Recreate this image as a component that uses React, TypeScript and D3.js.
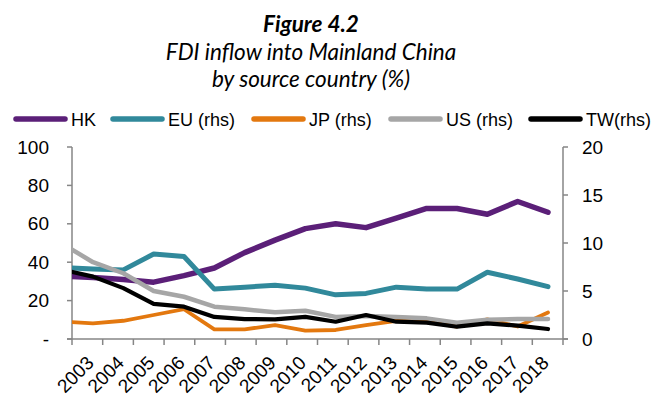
import React, { useEffect, useRef } from 'react';
import * as d3 from 'd3';

// 2002 point sits left of the axis and is clipped, like the source chart
const years = [2002, 2003, 2004, 2005, 2006, 2007, 2008, 2009, 2010, 2011, 2012, 2013, 2014, 2015, 2016, 2017, 2018];
const tickYears = years.slice(1);

const hk = [32.8, 32, 31, 29.6, 33, 37, 45, 51.5, 57.5, 60, 58, 63, 68, 68, 65, 71.6, 66];
const eu = [7.45, 7.3, 7.2, 8.85, 8.6, 5.2, 5.4, 5.6, 5.3, 4.6, 4.75, 5.4, 5.2, 5.2, 6.95, 6.25, 5.45];
const jp = [1.8, 1.63, 1.9, 2.5, 3.1, 1.0, 1.0, 1.45, 0.87, 0.94, 1.45, 1.9, 1.8, 1.3, 2.05, 1.3, 2.75];
const us = [9.9, 8.0, 6.85, 5.0, 4.4, 3.37, 3.1, 2.78, 2.95, 2.3, 2.4, 2.3, 2.15, 1.7, 2.0, 2.08, 2.08];
const tw = [7.2, 6.5, 5.3, 3.65, 3.37, 2.3, 2.08, 2.05, 2.3, 1.8, 2.5, 1.8, 1.7, 1.28, 1.63, 1.39, 1.04];

const leftTicks = [0, 20, 40, 60, 80, 100];
const rightTicks = [0, 5, 10, 15, 20];

const series = [
  { name: 'HK', label: 'HK', values: hk, axis: 'left', color: '#5b1f78', width: 5.5, lx: 13 },
  { name: 'EU', label: 'EU (rhs)', values: eu, axis: 'right', color: '#31899b', width: 5, lx: 110 },
  { name: 'JP', label: 'JP (rhs)', values: jp, axis: 'right', color: '#e3780f', width: 3.8, lx: 251 },
  { name: 'US', label: 'US (rhs)', values: us, axis: 'right', color: '#a6a6a6', width: 4.5, lx: 388 },
  { name: 'TW', label: 'TW(rhs)', values: tw, axis: 'right', color: '#000000', width: 4.2, lx: 528 },
];

const W = 654, H = 402;
const AXIS = '#868686';
const FONT = '"Liberation Sans", Arial, sans-serif';

const App = () => {
  const ref = useRef<SVGSVGElement>(null);

  useEffect(() => {
    if (!ref.current) return;
    const svg = d3.select(ref.current);
    svg.selectAll('*').remove();

    const plot = { left: 72, right: 563, top: 147, bottom: 339 };

    // titles
    const titles = [
      { text: 'Figure 4.2', y: 32, weight: 'bold', size: 22.5 },
      { text: 'FDI inflow into Mainland China', y: 60, weight: 'normal', size: 22.5 },
      { text: 'by source country (%)', y: 87, weight: 'normal', size: 22.5 },
    ];
    svg.selectAll('text.title')
      .data(titles)
      .enter()
      .append('text')
      .attr('class', 'title')
      .attr('x', 311)
      .attr('y', d => d.y)
      .attr('text-anchor', 'middle')
      .attr('font-family', 'Lato, sans-serif')
      .attr('font-style', 'italic')
      .attr('font-weight', d => d.weight)
      .attr('font-size', d => d.size)
      .attr('fill', '#000')
      .text(d => d.text);

    // legend
    const legend = svg.append('g');
    series.forEach(s => {
      legend.append('line')
        .attr('x1', s.lx + 3).attr('x2', s.lx + 52)
        .attr('y1', 119).attr('y2', 119)
        .attr('stroke', s.color)
        .attr('stroke-width', 5.5)
        .attr('stroke-linecap', 'round');
      legend.append('text')
        .attr('x', s.lx + 58)
        .attr('y', 125.5)
        .attr('font-family', FONT)
        .attr('font-size', 18)
        .attr('fill', '#000')
        .text(s.label);
    });

    // scales
    const x = d3.scaleLinear().domain([2003, 2018]).range([93, 548]);
    const band = d3.scaleBand<number>().domain(tickYears).range([plot.left, plot.right]);
    const yL = d3.scaleLinear().domain([0, 100]).range([plot.bottom, plot.top]);
    const yR = d3.scaleLinear().domain([0, 20]).range([plot.bottom, plot.top]);

    // axes
    const ax = svg.append('g').attr('stroke', AXIS).attr('stroke-width', 1.5);
    ax.append('line').attr('x1', plot.left).attr('x2', plot.left).attr('y1', plot.top).attr('y2', plot.bottom);
    ax.append('line').attr('x1', plot.right).attr('x2', plot.right).attr('y1', plot.top).attr('y2', plot.bottom);
    ax.append('line').attr('x1', plot.left - 5).attr('x2', plot.right + 5).attr('y1', plot.bottom).attr('y2', plot.bottom);
    ax.selectAll('line.lt').data(leftTicks).enter().append('line')
      .attr('x1', plot.left - 5).attr('x2', plot.left)
      .attr('y1', d => yL(d)).attr('y2', d => yL(d));
    ax.selectAll('line.rt').data(rightTicks).enter().append('line')
      .attr('x1', plot.right).attr('x2', plot.right + 5)
      .attr('y1', d => yR(d)).attr('y2', d => yR(d));
    const bounds = tickYears.map(d => band(d) as number).concat([plot.right]);
    ax.selectAll('line.xt').data(bounds).enter().append('line')
      .attr('x1', d => d).attr('x2', d => d)
      .attr('y1', plot.bottom).attr('y2', plot.bottom + 6);

    // tick labels
    svg.selectAll('text.yl').data(leftTicks).enter().append('text')
      .attr('x', 49)
      .attr('y', d => yL(d) + 6.5)
      .attr('text-anchor', 'end')
      .attr('font-family', FONT)
      .attr('font-size', 19)
      .text(d => (d === 0 ? '-' : String(d)));
    svg.selectAll('text.yr').data(rightTicks).enter().append('text')
      .attr('x', 582)
      .attr('y', d => yR(d) + 6.5)
      .attr('font-family', FONT)
      .attr('font-size', 19)
      .text(d => String(d));
    svg.selectAll('text.xl').data(tickYears).enter().append('text')
      .attr('transform', d => `translate(${x(d) + 2},${364}) rotate(-45)`)
      .attr('text-anchor', 'end')
      .attr('font-family', FONT)
      .attr('font-size', 19)
      .text(d => String(d));

    // lines
    svg.append('clipPath').attr('id', 'plotclip')
      .append('rect')
      .attr('x', plot.left).attr('y', 0)
      .attr('width', plot.right - plot.left).attr('height', H);

    const g = svg.append('g').attr('clip-path', 'url(#plotclip)');
    series.forEach(s => {
      const yS = s.axis === 'left' ? yL : yR;
      const line = d3.line<number>()
        .x((_, i) => x(years[i]))
        .y(d => yS(d));
      g.append('path')
        .attr('d', line(s.values))
        .attr('fill', 'none')
        .attr('stroke', s.color)
        .attr('stroke-width', s.width)
        .attr('stroke-linejoin', 'round')
        .attr('stroke-linecap', 'round');
    });
  }, []);

  return (
    <svg
      ref={ref}
      width={W}
      height={H}
      style={{ position: 'absolute', left: 0, top: 0, background: '#fff' }}
    />
  );
};

export default App;
